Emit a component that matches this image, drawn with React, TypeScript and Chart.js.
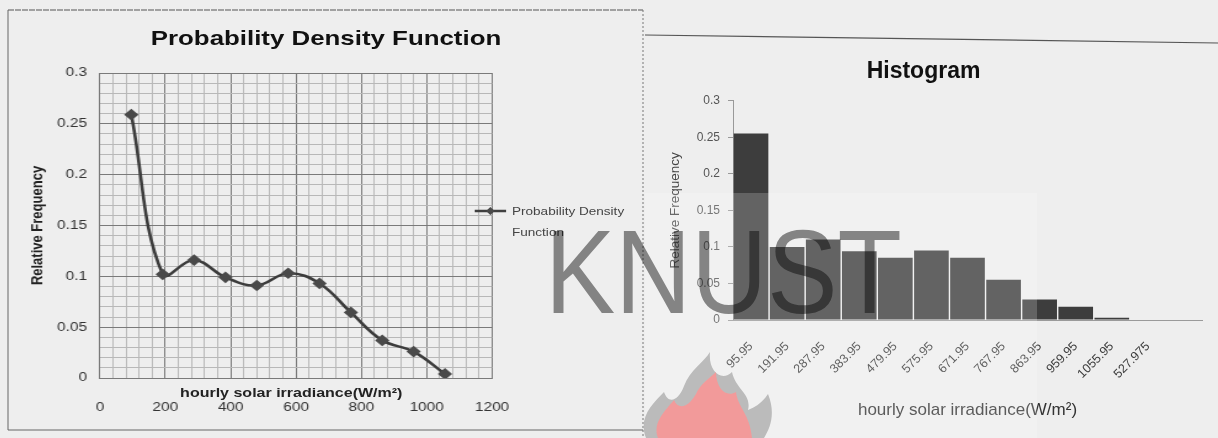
import React, { useEffect, useRef } from 'react';
import { Chart, registerables } from 'chart.js';

Chart.register(...registerables);

const FONT = "'Liberation Sans', Arial, sans-serif";

// Probability density function: bin mid-points (W/m²) and relative frequency
const pdfX = [95.95, 191.95, 287.95, 383.95, 479.95, 575.95, 671.95, 767.95, 863.95, 959.95, 1055.95];
const pdfY = [0.259, 0.102, 0.116, 0.099, 0.091, 0.103, 0.093, 0.0645, 0.037, 0.026, 0.004];
const pdfXTicks = [0, 200, 400, 600, 800, 1000, 1200];
const pdfYTicks = [0, 0.05, 0.1, 0.15, 0.2, 0.25, 0.3];

// Histogram: bin labels and relative frequency per bin
const histLabels = ['95.95', '191.95', '287.95', '383.95', '479.95', '575.95', '671.95', '767.95', '863.95', '959.95', '1055.95', '527.975', ''];
const histValues = [0.255, 0.1, 0.11, 0.094, 0.085, 0.095, 0.085, 0.055, 0.028, 0.018, 0.003, 0, null];
const histYTicks = [0, 0.05, 0.1, 0.15, 0.2, 0.25, 0.3];

const isMajor = (v: number, list: number[]) => list.some((t) => Math.abs(t - v) < 1e-6);
const fmt = (v: number) => String(Number(v.toFixed(3)));

// horizontal stretch applied to the left panel
const PDF_W = 515;
const PDF_H = 419;
const PDF_SX = 634 / PDF_W;

function PdfChart() {
  const ref = useRef<HTMLCanvasElement>(null);
  useEffect(() => {
    const chart = new Chart(ref.current!, {
      type: 'line',
      data: {
        datasets: [
          {
            label: 'Probability Density Function',
            data: pdfX.map((x, i) => ({ x, y: pdfY[i] })),
            borderColor: '#3c3c3c',
            borderWidth: 2.6,
            tension: 0.4,
            pointStyle: 'rectRot',
            pointRadius: 4,
            pointBackgroundColor: '#4a4a4a',
            pointBorderColor: '#4a4a4a',
            fill: false,
          },
        ],
      },
      options: {
        responsive: false,
        animation: false,
        layout: { padding: { left: 0, right: 122.6, top: 62, bottom: 0 } },
        plugins: {
          legend: { display: false },
          tooltip: { enabled: false },
        },
        scales: {
          x: {
            type: 'linear',
            min: 0,
            max: 1200,
            ticks: {
              stepSize: 40,
              autoSkip: false,
              maxRotation: 0,
              padding: 22,
              color: '#333',
              font: { family: FONT, size: 12.5 },
              callback: (v: any) => (isMajor(Number(v), pdfXTicks) ? String(v) : ''),
            },
            grid: {
              drawTicks: false,
              color: (ctx: any) => (isMajor(ctx.tick.value, pdfXTicks) ? '#7a7a7a' : '#b8b8b8'),
            },
            border: { color: '#7a7a7a' },
            afterFit: (s: any) => {
              s.height = 52;
            },
          },
          y: {
            min: 0,
            max: 0.3,
            ticks: {
              stepSize: 0.01,
              autoSkip: false,
              padding: 10.5,
              color: '#333',
              font: { family: FONT, size: 12.5 },
              callback: (v: any) => (isMajor(Number(v), pdfYTicks) ? fmt(Number(v)) : ''),
            },
            grid: {
              drawTicks: false,
              color: (ctx: any) => (isMajor(ctx.tick.value, pdfYTicks) ? '#7a7a7a' : '#b8b8b8'),
            },
            border: { color: '#7a7a7a' },
            title: {
              display: true,
              text: 'Relative Frequency',
              color: '#222',
              font: { family: FONT, size: 13, weight: 'bold' },
              padding: { top: 15.8, bottom: 0 },
            },
            afterFit: (s: any) => {
              s.width = 73.9;
            },
          },
        },
      },
    } as any);
    return () => chart.destroy();
  }, []);
  return <canvas ref={ref} width={PDF_W} height={PDF_H} style={{ display: 'block' }} />;
}

function HistChart() {
  const ref = useRef<HTMLCanvasElement>(null);
  useEffect(() => {
    const chart = new Chart(ref.current!, {
      type: 'bar',
      data: {
        labels: histLabels,
        datasets: [
          {
            label: 'Relative Frequency',
            data: histValues,
            backgroundColor: '#3d3d3d',
            barPercentage: 0.96,
            categoryPercentage: 1,
          },
        ],
      },
      options: {
        responsive: false,
        animation: false,
        layout: { padding: { left: 0, right: 16, top: 0, bottom: 0 } },
        plugins: {
          legend: { display: false },
          tooltip: { enabled: false },
          title: {
            display: true,
            text: 'Histogram',
            color: '#111',
            font: { family: FONT, size: 23, weight: 'bold' },
            padding: { top: 18.2, bottom: 14.9 },
          },
        },
        scales: {
          x: {
            grid: { display: false, drawTicks: false },
            border: { display: true, color: '#9a9a9a' },
            ticks: {
              autoSkip: false,
              minRotation: 45,
              maxRotation: 45,
              padding: 19,
              color: '#3a3a3a',
              font: { family: FONT, size: 12.5 },
            },
            title: {
              display: true,
              text: 'hourly solar irradiance(W/m²)',
              color: '#333',
              font: { family: FONT, size: 17 },
              padding: { top: 0, bottom: 17.8 },
            },
            afterFit: (s: any) => {
              s.height = 118;
            },
          },
          y: {
            min: 0,
            max: 0.3,
            afterBuildTicks: (s: any) => {
              s.ticks = histYTicks.map((value) => ({ value }));
            },
            ticks: {
              padding: 8,
              color: '#555',
              font: { family: FONT, size: 12 },
              callback: (v: any) => fmt(Number(v)),
            },
            grid: { drawOnChartArea: false, drawTicks: true, tickLength: 5, color: '#999' },
            border: { color: '#999' },
            title: {
              display: true,
              text: 'Relative Frequency',
              color: '#444',
              font: { family: FONT, size: 13.5 },
              padding: { top: 21.9, bottom: 0 },
            },
            afterFit: (s: any) => {
              s.width = 88;
            },
          },
        },
      },
    } as any);
    return () => chart.destroy();
  }, []);
  return <canvas ref={ref} width={573} height={398} style={{ display: 'block' }} />;
}

export default function App() {
  return (
    <div
      style={{
        position: 'fixed',
        left: 0,
        top: 0,
        width: 1218,
        height: 438,
        background: '#eeeeee',
        overflow: 'hidden',
        fontFamily: FONT,
      }}
    >
      {/* left panel, stretched horizontally */}
      <div
        style={{
          position: 'absolute',
          left: 9,
          top: 11,
          width: PDF_W,
          height: PDF_H,
          transform: `scaleX(${PDF_SX})`,
          transformOrigin: '0 0',
        }}
      >
        <PdfChart />
        {/* chart title across the whole panel */}
        <div
          style={{
            position: 'absolute',
            left: 0,
            top: 14,
            width: PDF_W,
            textAlign: 'center',
            fontSize: 21,
            lineHeight: '25px',
            fontWeight: 'bold',
            color: '#111',
            whiteSpace: 'nowrap',
          }}
        >
          Probability Density Function
        </div>
        {/* legend */}
        <svg style={{ position: 'absolute', left: 378, top: 194 }} width={26} height={12}>
          <line x1={0} y1={6} x2={26} y2={6} stroke="#404040" strokeWidth={2.4} />
          <polygon points="13,2 16.5,6 13,10 9.5,6" fill="#4a4a4a" />
        </svg>
        <div
          style={{
            position: 'absolute',
            left: 408.6,
            top: 189.5,
            fontSize: 11,
            lineHeight: '21px',
            color: '#444',
            whiteSpace: 'nowrap',
          }}
        >
          Probability Density
          <br />
          Function
        </div>
        {/* x axis title sits over the tick labels */}
        <div
          style={{
            position: 'absolute',
            left: 139,
            top: 374,
            fontSize: 13,
            fontWeight: 'bold',
            color: '#222',
            whiteSpace: 'nowrap',
          }}
        >
          hourly solar irradiance(W/m²)
        </div>
      </div>

      {/* right panel */}
      <div style={{ position: 'absolute', left: 645, top: 40, width: 573, height: 398 }}>
        <HistChart />
      </div>

      {/* lighter band of the scanned page */}
      <div
        style={{
          position: 'absolute',
          left: 645,
          top: 193,
          width: 392,
          height: 245,
          background: 'rgba(255,255,255,0.2)',
        }}
      />

      {/* panel frames */}
      <svg style={{ position: 'absolute', left: 0, top: 0 }} width={1218} height={438}>
        <line x1={8} y1={10} x2={643} y2={10} stroke="#555" strokeWidth={1.2} strokeDasharray="6 1" />
        <line x1={8} y1={10} x2={8} y2={430} stroke="#666" strokeWidth={1} />
        <line x1={8} y1={430} x2={643} y2={430} stroke="#666" strokeWidth={1.2} />
        <line x1={643} y1={10} x2={643} y2={438} stroke="#777" strokeWidth={1} strokeDasharray="2 2" />
        <line x1={645} y1={35} x2={1218} y2={43} stroke="#555" strokeWidth={1.2} />
      </svg>

      {/* flame emblem */}
      <svg style={{ position: 'absolute', left: 638, top: 352 }} width={140} height={86}>
        <path
          d="M8,86 C0,66 14,52 26,40 C30,52 40,50 46,34 C52,18 66,10 72,0 C70,20 84,30 94,20 C98,38 114,42 110,58 C120,54 126,48 130,42 C138,62 132,76 126,86 Z"
          fill="#a8a8a8"
          opacity={0.75}
        />
        <path
          d="M20,86 C14,70 28,58 36,48 C40,58 50,56 58,42 C62,32 72,26 78,20 C78,36 88,46 98,40 C100,56 112,62 114,86 Z"
          fill="#f29a9a"
        />
      </svg>

      {/* watermark */}
      <div
        style={{
          position: 'absolute',
          left: 545,
          top: 212,
          fontSize: 119,
          lineHeight: 1,
          color: '#8c8c8c',
          mixBlendMode: 'multiply',
          transform: 'scaleX(0.885)',
          transformOrigin: '0 0',
          whiteSpace: 'nowrap',
          pointerEvents: 'none',
        }}
      >
        KNUST
      </div>
    </div>
  );
}
